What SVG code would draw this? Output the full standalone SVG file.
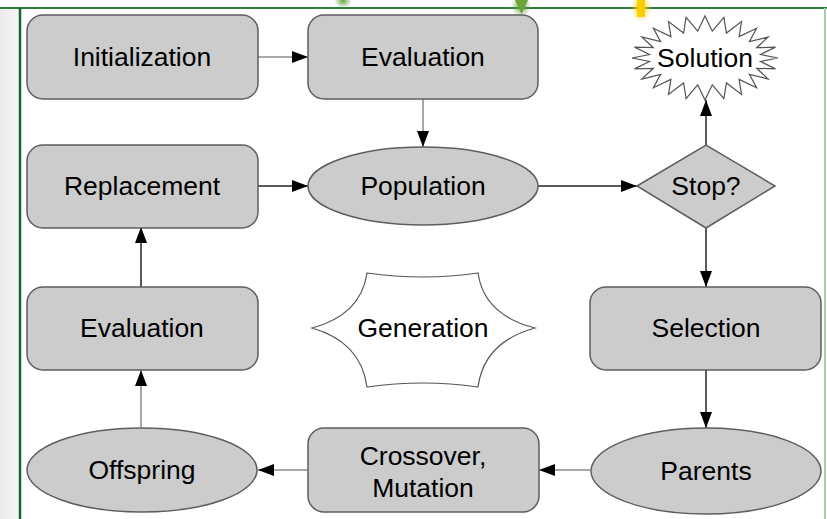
<svg xmlns="http://www.w3.org/2000/svg" width="827" height="519" viewBox="0 0 827 519">
<defs>
<marker id="ah" viewBox="0 0 16 12" refX="16" refY="6" markerWidth="16" markerHeight="12" markerUnits="userSpaceOnUse" orient="auto">
<path d="M0,0 L16,6 L0,12 Z" fill="#000"/>
</marker>
<radialGradient id="glowY" cx="0.5" cy="0.5" r="0.5">
<stop offset="0" stop-color="#ffd21a" stop-opacity="0.9"/>
<stop offset="1" stop-color="#ffd21a" stop-opacity="0"/>
</radialGradient>
<radialGradient id="glowG" cx="0.5" cy="0.5" r="0.5">
<stop offset="0" stop-color="#5aa032" stop-opacity="0.9"/>
<stop offset="1" stop-color="#5aa032" stop-opacity="0"/>
</radialGradient>
<linearGradient id="side" x1="0" y1="0" x2="1" y2="0">
<stop offset="0" stop-color="#ebebeb"/>
<stop offset="1" stop-color="#f6f6f6"/>
</linearGradient>
</defs>
<style>
.box{fill:#cccccc;stroke:#5e5e5e;stroke-width:1.5}
.star{fill:#ffffff;stroke:#555;stroke-width:1.2}
.lbl{font-family:"Liberation Sans",Arial,sans-serif;font-size:26.5px;fill:#000;text-anchor:middle}
.c{fill:none;stroke-width:1.5;marker-end:url(#ah)}
.g{stroke:#8a8a8a}
.k{stroke:#222}
</style>
<rect x="0" y="0" width="827" height="519" fill="#ffffff"/>
<rect x="0" y="8" width="19" height="511" fill="url(#side)"/>
<rect x="20" y="9" width="805" height="510" fill="#ffffff"/>
<line x1="0" y1="8" x2="827" y2="8" stroke="#2f7d3a" stroke-width="2"/>
<line x1="20" y1="8" x2="20" y2="519" stroke="#156627" stroke-width="2.5"/>
<line x1="825" y1="8" x2="825" y2="519" stroke="#a5d3ae" stroke-width="2"/>
<g id="decor">
<ellipse cx="343" cy="1" rx="9" ry="7" fill="url(#glowG)"/>
<ellipse cx="521" cy="6" rx="10" ry="11" fill="url(#glowG)"/>
<path d="M515,0 L528,0 L521.5,14 Z" fill="#6aa337"/>
<ellipse cx="641" cy="8" rx="11" ry="14" fill="url(#glowY)"/>
<rect x="637" y="0" width="8" height="17" fill="#ffcc00"/>
</g>
<g id="connectors">
<line class="c g" x1="258" y1="57" x2="308" y2="57"/>
<line class="c g" x1="423" y1="99" x2="423" y2="147"/>
<line class="c k" x1="258" y1="186" x2="308" y2="186"/>
<line class="c k" x1="538" y1="186" x2="637" y2="186"/>
<line class="c k" x1="706" y1="145" x2="706" y2="100"/>
<line class="c k" x1="706" y1="228" x2="706" y2="287"/>
<line class="c k" x1="706" y1="370" x2="706" y2="428"/>
<line class="c g" x1="590" y1="470" x2="539" y2="470"/>
<line class="c g" x1="308" y1="470" x2="258" y2="470"/>
<line class="c g" x1="141" y1="427" x2="141" y2="370"/>
<line class="c k" x1="141" y1="287" x2="141" y2="227"/>
</g>
<g id="initialization">
<rect class="box" x="27" y="15" width="231" height="84" rx="16"/>
<text class="lbl" x="142" y="66">Initialization</text>
</g>
<g id="evaluation-top">
<rect class="box" x="308" y="15" width="230" height="84" rx="16"/>
<text class="lbl" x="423" y="66">Evaluation</text>
</g>
<g id="solution">
<polygon class="star" points="778,58 760.5,61.5 775.5,68.9 756.7,68.3 768.2,79 749.4,74.4 756.6,87.7 739.1,79.4 741.5,94.4 726.4,82.9 723.9,98.6 712.3,84.8 705,100 697.7,84.8 686.1,98.6 683.6,82.9 668.5,94.4 670.9,79.4 653.4,87.7 660.6,74.4 641.8,79 653.3,68.3 634.5,68.9 649.5,61.5 632,58 649.5,54.5 634.5,47.1 653.3,47.7 641.8,37 660.6,41.6 653.4,28.3 670.9,36.6 668.5,21.6 683.6,33.1 686.1,17.4 697.7,31.2 705,16 712.3,31.2 723.9,17.4 726.4,33.1 741.5,21.6 739.1,36.6 756.6,28.3 749.4,41.6 768.2,37 756.7,47.7 775.5,47.1 760.5,54.5"/>
<text class="lbl" x="705" y="67">Solution</text>
</g>
<g id="replacement">
<rect class="box" x="27" y="145" width="231" height="83" rx="16"/>
<text class="lbl" x="142" y="195">Replacement</text>
</g>
<g id="population">
<ellipse class="box" cx="423" cy="186" rx="115" ry="39"/>
<text class="lbl" x="423" y="195">Population</text>
</g>
<g id="stop">
<polygon class="box" points="637,186 706,145 775,186 706,228"/>
<text class="lbl" x="706" y="195">Stop?</text>
</g>
<g id="evaluation-left">
<rect class="box" x="27" y="287" width="231" height="83" rx="16"/>
<text class="lbl" x="142" y="337">Evaluation</text>
</g>
<g id="generation">
<path class="star" d="M367,273 Q423,281 478,273 Q484,315 535,328 Q484,342 478,387 Q423,379 367,387 Q361,342 312,328 Q361,315 367,273 Z"/>
<text class="lbl" x="423" y="337">Generation</text>
</g>
<g id="selection">
<rect class="box" x="590" y="287" width="231" height="83" rx="16"/>
<text class="lbl" x="706" y="337">Selection</text>
</g>
<g id="offspring">
<ellipse class="box" cx="142" cy="470" rx="115" ry="42"/>
<text class="lbl" x="142" y="479">Offspring</text>
</g>
<g id="crossover">
<rect class="box" x="308" y="428" width="231" height="84" rx="16"/>
<text class="lbl" x="423" y="465">Crossover,</text>
<text class="lbl" x="423" y="497">Mutation</text>
</g>
<g id="parents">
<ellipse class="box" cx="706" cy="471" rx="115" ry="43"/>
<text class="lbl" x="706" y="480">Parents</text>
</g>
</svg>
